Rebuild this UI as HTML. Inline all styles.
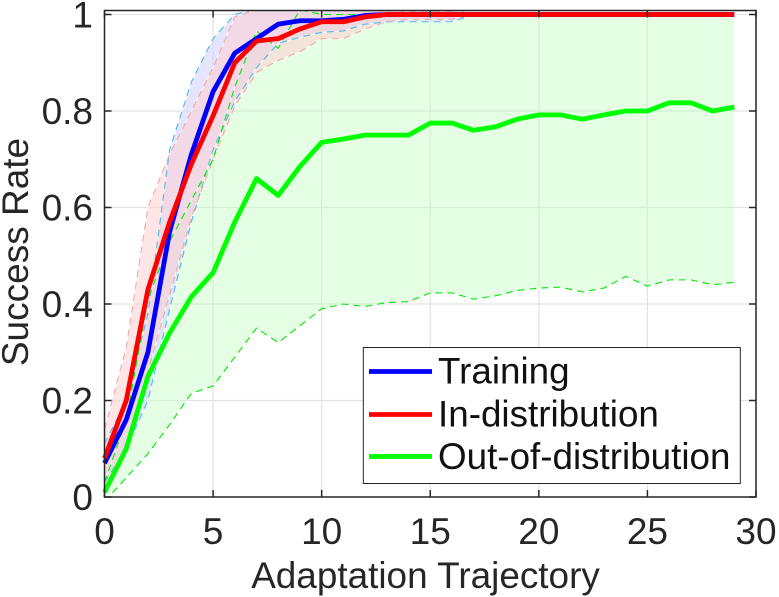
<!DOCTYPE html>
<html>
<head>
<meta charset="utf-8">
<style>
html,body{margin:0;padding:0;background:#fff;width:779px;height:597px;overflow:hidden}
svg{display:block}
text{font-family:"Liberation Sans",sans-serif;fill:#262626}
</style>
</head>
<body>
<svg id="chart" width="779" height="597" viewBox="0 0 779 597" xmlns="http://www.w3.org/2000/svg"></svg>
<script>
var xTicks = [0,5,10,15,20,25,30];
var yTicks = [0,0.2,0.4,0.6,0.8,1];
var xTickLabels = ['0','5','10','15','20','25','30'];
var yTickLabels = ['0','0.2','0.4','0.6','0.8','1'];
var trainingMean = [.07,.16,.30,.55,.71,.84,.92,.95,.98,.987,.987,.99,.998,1,1,1,1,1,1,1,1,1,1,1,1,1,1,1,1,1];
var trainingUpper = [.11,.20,.38,.72,.86,.95,1.0,1.012,1.015,1.015,1.01,1.01,1.01,1.01,1.01,1.01,1.01,1,1,1,1,1,1,1,1,1,1,1,1,1];
var trainingLower = [.03,.10,.20,.39,.57,.72,.82,.89,.94,.953,.963,.966,.98,.985,.985,.985,.985,1,1,1,1,1,1,1,1,1,1,1,1,1];
var inDistMean = [.08,.20,.43,.57,.69,.79,.90,.945,.95,.97,.985,.985,.995,1,1,1,1,1,1,1,1,1,1,1,1,1,1,1,1,1];
var inDistUpper = [.14,.31,.60,.71,.80,.89,.995,1.01,1.012,1.012,1.012,1.012,1.012,1.012,1.005,1.005,1.005,1,1,1,1,1,1,1,1,1,1,1,1,1];
var inDistLower = [.02,.10,.26,.42,.58,.70,.81,.88,.905,.923,.95,.95,.97,.985,.99,.99,.99,1,1,1,1,1,1,1,1,1,1,1,1,1];
var oodMean = [.01,.10,.25,.34,.415,.465,.57,.66,.625,.685,.735,.742,.75,.75,.75,.775,.775,.76,.767,.783,.792,.792,.783,.792,.80,.80,.817,.817,.80,.808];
var oodUpper = [.03,.16,.41,.53,.615,.70,.85,.966,.93,1.01,1,1,1,1,1,1,1,1,1,1,1,1,1,1,1,1,1,1,1,1];
var oodLower = [-.01,.04,.09,.15,.215,.23,.29,.35,.32,.355,.39,.40,.395,.403,.405,.423,.423,.41,.417,.428,.433,.435,.425,.433,.457,.437,.45,.45,.44,.445];
var legendLabels = ['Training','In-distribution','Out-of-distribution'];

var NS = 'http://www.w3.org/2000/svg';
var svg = document.getElementById('chart');
var L = 104.5, R = 756, B = 497, T = 10.5, Y1 = 14.5;
function sx(v){ return L + v * (R - L) / 30; }
function sy(v){ return B - v * (B - Y1); }
function mk(tag, attrs, parent){
  var e = document.createElementNS(NS, tag);
  for (var k in attrs) e.setAttribute(k, attrs[k]);
  (parent || svg).appendChild(e);
  return e;
}
function pts(arr){
  return arr.map(function(v,i){ return sx(i).toFixed(2) + ',' + sy(v).toFixed(2); });
}
var defs = mk('defs', {});
var cp = mk('clipPath', {id:'plot-clip'}, defs);
mk('rect', {x:L, y:T, width:R-L, height:B-T}, cp);

// grid
xTicks.forEach(function(v){
  var g = mk('line', {x1:sx(v), x2:sx(v), y1:T, y2:B, stroke:'#e2e2e2', 'stroke-width':1.2});
  
  
});
yTicks.forEach(function(v){
  var g = mk('line', {x1:L, x2:R, y1:sy(v), y2:sy(v), stroke:'#e2e2e2', 'stroke-width':1.2});
  
  
});

// bands
var plot = mk('g', {'clip-path':'url(#plot-clip)'});


function bandFill(upper, lower, fill, name, wipe){
  var poly = pts(upper).concat(pts(lower).reverse()).join(' ');
  mk('polygon', {points: poly, fill:'#fff', 'fill-opacity':wipe, stroke:'none'}, plot);
  var p = mk('polygon', {points: poly, fill:fill, 'fill-opacity':0.1, stroke:'none'}, plot);
  
  
}
function bandHalo(upper, lower){
  [upper, lower].forEach(function(a){
    mk('polyline', {points: pts(a).join(' '), fill:'none', stroke:'#fff', 'stroke-width':1, 'stroke-opacity':0.7}, plot);
  });
}
function bandEdges(upper, lower, edge, name){
  [upper, lower].forEach(function(a){
    var l = mk('polyline', {points: pts(a).join(' '), fill:'none', stroke:edge, 'stroke-width':1.1, 'stroke-dasharray':'7 5'}, plot);
    
    
  });
}
bandFill(oodUpper, oodLower, '#00ff00', 'out-of-distribution', 0.4);
bandFill(trainingUpper, trainingLower, '#0000ff', 'training', 0.6);
bandFill(inDistUpper, inDistLower, '#ff0000', 'in-distribution', 0.5);
bandHalo(oodUpper, oodLower);
bandHalo(trainingUpper, trainingLower);
bandHalo(inDistUpper, inDistLower);
bandEdges(trainingUpper, trainingLower, '#4db8ec', 'training');
bandEdges(inDistUpper, inDistLower, '#eeaaaa', 'in-distribution');
bandEdges(oodUpper, oodLower, '#00e800', 'out-of-distribution');

// mean lines
function meanLine(arr, color, name){
  var l = mk('polyline', {points: pts(arr).join(' '), fill:'none', stroke:color, 'stroke-width':4.8, 'stroke-linejoin':'round'}, svg);
  
  
}
meanLine(trainingMean, '#0000ff', 'training');
meanLine(oodMean, '#00ff00', 'out-of-distribution');
meanLine(inDistMean, '#ff0000', 'in-distribution');

// axes box
var box = mk('rect', {x:L, y:T, width:R-L, height:B-T, fill:'none', stroke:'#262626', 'stroke-width':1.5});


xTicks.forEach(function(v,i){
  mk('line', {x1:sx(v), x2:sx(v), y1:B, y2:B-7, stroke:'#262626', 'stroke-width':1.5});
  mk('line', {x1:sx(v), x2:sx(v), y1:T, y2:T+7, stroke:'#262626', 'stroke-width':1.5});
  var t = mk('text', {x:sx(v), y:544, 'font-size':37, 'text-anchor':'middle'});
  t.textContent = xTickLabels[i];
  
  
});
yTicks.forEach(function(v,i){
  mk('line', {x1:L, x2:L+7, y1:sy(v), y2:sy(v), stroke:'#262626', 'stroke-width':1.5});
  mk('line', {x1:R, x2:R-7, y1:sy(v), y2:sy(v), stroke:'#262626', 'stroke-width':1.5});
  var t = mk('text', {x:93, y:sy(v)+13, 'font-size':37, 'text-anchor':'end'});
  t.textContent = yTickLabels[i];
  
  
});

// axis titles
var xt = mk('text', {x:425.5, y:588, 'font-size':36.9, 'text-anchor':'middle'});
xt.textContent = 'Adaptation Trajectory';


var yt = mk('text', {x:0, y:0, 'font-size':37, 'text-anchor':'middle', transform:'translate(28 252) rotate(-90)'});
yt.textContent = 'Success Rate';



// legend
var lg = mk('g', {});


mk('rect', {x:363.3, y:347.5, width:377, height:136, fill:'#fff', stroke:'#262626', 'stroke-width':1}, lg);
var legendColors = ['#0000ff','#ff0000','#00ff00'];
var legendLineY = [371.5, 414.5, 456.5];
var legendTextY = [383.5, 426.5, 469];
legendLabels.forEach(function(s,i){
  mk('line', {x1:369, x2:432, y1:legendLineY[i], y2:legendLineY[i], stroke:legendColors[i], 'stroke-width':4.8}, lg);
  var t = mk('text', {x:438, y:legendTextY[i], 'font-size':36.8}, lg);
  t.style.fill = '#111';
  t.textContent = s;
  
  
});
</script>
</body>
</html>
